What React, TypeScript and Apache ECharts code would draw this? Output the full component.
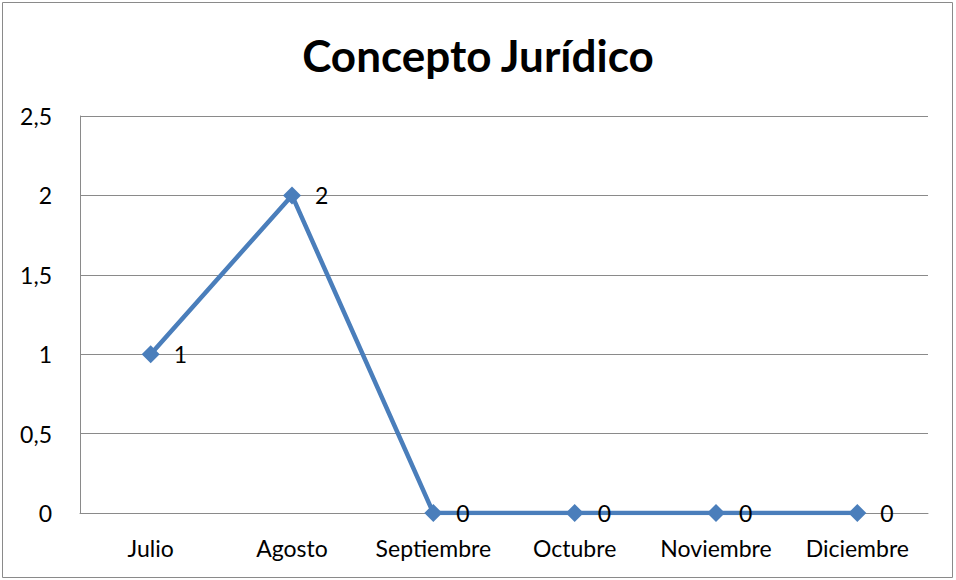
import React, { useEffect, useRef } from "react";
import * as echarts from "echarts";

const categories = ["Julio", "Agosto", "Septiembre", "Octubre", "Noviembre", "Diciembre"];
const values = [1, 2, 0, 0, 0, 0];
const titleText = "Concepto Jurídico";

export default function App() {
  const ref = useRef<HTMLDivElement>(null);
  useEffect(() => {
    if (!ref.current) return;
    const chart = echarts.init(ref.current, null, { renderer: "svg" });
    const font = "Lato, 'Open Sans', sans-serif";
    chart.setOption({
      animation: false,
      backgroundColor: "#ffffff",
      title: {
        text: titleText,
        left: "center",
        top: 28,
        textStyle: { fontFamily: font, fontSize: 44, fontWeight: "bold", color: "#000" },
      },
      graphic: [
        {
          type: "rect",
          shape: { x: 2.5, y: 2.5, width: 950, height: 575 },
          style: { fill: "none", stroke: "#8a8a8a", lineWidth: 1 },
          silent: true,
        },
      ],
      grid: { left: 80, right: 28, top: 116, bottom: 67 },
      xAxis: {
        type: "category",
        data: categories,
        boundaryGap: true,
        axisLine: { show: true, lineStyle: { color: "#8a8a8a", width: 1 } },
        axisTick: { show: false },
        axisLabel: { color: "#000", fontFamily: font, fontSize: 23, margin: 23, interval: 0 },
      },
      yAxis: {
        type: "value",
        min: 0,
        max: 2.5,
        interval: 0.5,
        axisLine: { show: true, lineStyle: { color: "#8a8a8a", width: 1 } },
        axisTick: { show: false },
        splitLine: { show: true, lineStyle: { color: "#8a8a8a", width: 1 } },
        axisLabel: {
          color: "#000",
          fontFamily: font,
          fontSize: 23,
          margin: 28,
          formatter: (v: number) => String(v).replace(".", ","),
        },
      },
      series: [
        {
          type: "line",
          data: values,
          symbol: "diamond",
          symbolSize: 18,
          lineStyle: { color: "#4a7ebb", width: 4.5 },
          itemStyle: { color: "#4a7ebb" },
          label: {
            show: true,
            position: "right",
            distance: 14,
            color: "#000",
            fontFamily: font,
            fontSize: 23,
          },
        },
      ],
    });
    return () => chart.dispose();
  }, []);
  return (
    <div
      ref={ref}
      style={{ position: "fixed", left: 0, top: 0, width: 956, height: 580, background: "#fff" }}
    />
  );
}
